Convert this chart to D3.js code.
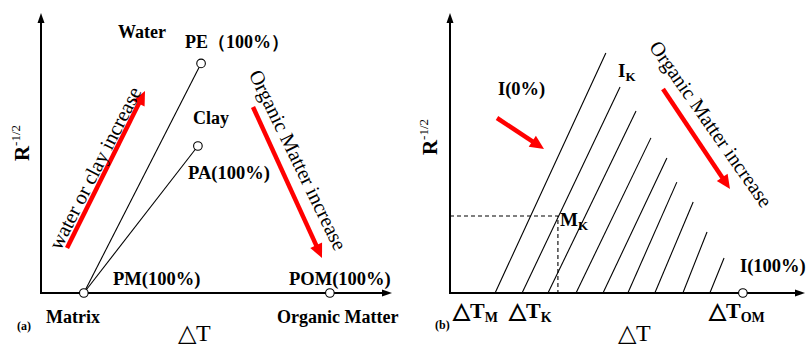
<!DOCTYPE html>
<html><head><meta charset="utf-8">
<script src="https://cdn.jsdelivr.net/npm/d3@7"></script>
<style>body{margin:0;background:#fff}svg{display:block}text{font-family:"Liberation Serif","Times New Roman",serif}</style>
</head><body><svg id="c" width="807" height="345"></svg>
<script>
// ---- Panel (a) data (arbitrary units: ΔT 0-100, R^-1/2 0-100)
const endMembersA = ["Matrix", "PE", "PA", "POM"];
const endMembersA_dT = [12.2, 45.6, 44.7, 82.3];
const endMembersA_R = [0, 82, 52.5, 0];
const mixingLinesA = [["Matrix", "PE"], ["Matrix", "PA"]];

// ---- Panel (b) data
const isoLineBottomDT = [12.7, 20.3, 27.6, 35.5, 43.1, 50.1, 57.7, 65.6, 73.2];
const isoLineTopDT = [43.9, 47.9, 52.4, 56.6, 61.1, 63.9, 68.5, 72.4, 77.2];
const isoLineTopR = [85.7, 73.6, 65.0, 55.4, 48.2, 39.6, 32.5, 21.8, 12.5];
const pointMK = [30.4, 27.5];
const pointOM = [82.5, 0];

const svg = d3.select("#c");
svg.append("rect").attr("width", 807).attr("height", 345).attr("fill", "#fff");

const xA = d3.scaleLinear().domain([0, 100]).range([41, 392]);
const yA = d3.scaleLinear().domain([0, 100]).range([293, 13]);
const xB = d3.scaleLinear().domain([0, 100]).range([450, 805]);
const yB = d3.scaleLinear().domain([0, 100]).range([293, 13]);

function axes(g, x, y) {
  const x0 = x.range()[0], x1 = x.range()[1], y0 = y.range()[0], y1 = y.range()[1];
  g.append("line").attr("x1", x0).attr("y1", y0 + 1).attr("x2", x0).attr("y2", y1 + 6).attr("stroke", "#000").attr("stroke-width", 2);
  g.append("line").attr("x1", x0 - 1).attr("y1", y0).attr("x2", x1 - 6).attr("y2", y0).attr("stroke", "#000").attr("stroke-width", 2);
  g.append("path").attr("d", `M${x0},${y1} L${x0 - 3.5},${y1 + 10} L${x0 + 3.5},${y1 + 10} Z`).attr("fill", "#000");
  g.append("path").attr("d", `M${x1},${y0} L${x1 - 10},${y0 - 3.5} L${x1 - 10},${y0 + 3.5} Z`).attr("fill", "#000");
}

function redArrow(g, x1, y1, x2, y2) {
  const L = Math.hypot(x2 - x1, y2 - y1), ux = (x2 - x1) / L, uy = (y2 - y1) / L;
  const hl = 14, hw = 6.5;
  const bx = x2 - ux * hl, by = y2 - uy * hl;
  g.append("line").attr("x1", x1).attr("y1", y1).attr("x2", bx + ux).attr("y2", by + uy)
    .attr("stroke", "#ff0000").attr("stroke-width", 4.5);
  g.append("path").attr("d", `M${x2},${y2} L${bx - uy * hw},${by + ux * hw} L${bx + uy * hw},${by - ux * hw} Z`).attr("fill", "#ff0000");
}

function label(g, txt, x, y, size, bold, anchor) {
  return g.append("text").attr("x", x).attr("y", y).attr("font-size", size)
    .attr("font-weight", bold ? "bold" : "normal").attr("text-anchor", anchor || "start").text(txt);
}

function subLabel(g, main, sub, x, y, size, subSize, bold) {
  const t = g.append("text").attr("x", x).attr("y", y).attr("font-size", size).attr("font-weight", bold ? "bold" : "normal");
  t.append("tspan").text(main);
  t.append("tspan").attr("font-size", subSize).attr("dy", 4).text(sub);
  return t;
}

function rLabel(g, cx, cy) {
  const t = g.append("text").attr("transform", `translate(${cx},${cy}) rotate(-90)`).attr("text-anchor", "middle")
    .attr("font-size", 21).attr("font-weight", "bold");
  t.append("tspan").text("R");
  t.append("tspan").attr("font-size", 13).attr("font-weight", "normal").attr("dy", -9).text("-1/2");
}

// ================= Panel (a)
const gA = svg.append("g");
axes(gA, xA, yA);
const idx = n => endMembersA.indexOf(n);
gA.selectAll("line.mix").data(mixingLinesA).enter().append("line").attr("class", "mix")
  .attr("x1", d => xA(endMembersA_dT[idx(d[0])])).attr("y1", d => yA(endMembersA_R[idx(d[0])]))
  .attr("x2", d => xA(endMembersA_dT[idx(d[1])])).attr("y2", d => yA(endMembersA_R[idx(d[1])]))
  .attr("stroke", "#000").attr("stroke-width", 1.1);
gA.selectAll("circle").data(endMembersA).enter().append("circle")
  .attr("cx", (d, i) => xA(endMembersA_dT[i])).attr("cy", (d, i) => yA(endMembersA_R[i])).attr("r", 4.3)
  .attr("fill", "#fff").attr("stroke", "#000").attr("stroke-width", 1.1);

label(gA, "Water", 118, 38, 18, true);
label(gA, "PE\uFF08100%\uFF09", 185, 48, 18, true);
label(gA, "Clay", 193, 124, 18, true);
label(gA, "PA(100%)", 188, 179, 18.5, true);
label(gA, "PM(100%)", 113, 285, 18.5, true);
label(gA, "POM(100%)", 289, 285, 18.5, true);
label(gA, "Matrix", 46, 323, 18, true);
label(gA, "Organic Matter", 277, 323, 18, true);
label(gA, "(a)", 17, 330, 12, true);
label(gA, "\u25B3T", 178, 341, 24, false);
rLabel(gA, 29, 143);

redArrow(gA, 67, 248, 145, 91);
redArrow(gA, 253, 107, 322, 258);
gA.append("text").attr("transform", "translate(95,168) rotate(-63)").attr("text-anchor", "middle")
  .attr("dominant-baseline", "central").attr("font-size", 20.5).text("water or clay increase");
gA.append("text").attr("transform", "translate(298,160) rotate(64)").attr("text-anchor", "middle")
  .attr("dominant-baseline", "central").attr("font-size", 20.5).text("Organic Matter increase");

// ================= Panel (b)
const gB = svg.append("g");
axes(gB, xB, yB);
gB.selectAll("line.iso").data(isoLineBottomDT).enter().append("line").attr("class", "iso")
  .attr("x1", d => xB(d)).attr("y1", yB(0))
  .attr("x2", (d, i) => xB(isoLineTopDT[i])).attr("y2", (d, i) => yB(isoLineTopR[i]))
  .attr("stroke", "#000").attr("stroke-width", 1.1);
gB.append("path").attr("d", `M${xB(0)},${yB(pointMK[1])} H${xB(pointMK[0])} V${yB(0)}`)
  .attr("fill", "none").attr("stroke", "#000").attr("stroke-width", 1.1).attr("stroke-dasharray", "4,3");
gB.append("circle").attr("cx", xB(pointOM[0])).attr("cy", yB(pointOM[1])).attr("r", 4.3)
  .attr("fill", "#fff").attr("stroke", "#000").attr("stroke-width", 1.1);

label(gB, "I(0%)", 498, 95, 18.5, true);
subLabel(gB, "I", "K", 618, 77, 19, 13, true);
subLabel(gB, "M", "K", 560, 226, 19, 13, true);
label(gB, "I(100%)", 740, 272, 18.5, true);
subLabel(gB, "\u25B3T", "M", 453, 318, 22, 14, true);
subLabel(gB, "\u25B3T", "K", 509, 318, 22, 14, true);
subLabel(gB, "\u25B3T", "OM", 709, 318, 22, 14, true);
label(gB, "(b)", 435, 329, 12, true);
label(gB, "\u25B3T", 618, 341, 24, false);
rLabel(gB, 437, 137);

redArrow(gB, 497, 118, 544, 149);
redArrow(gB, 663, 89, 730, 189);
gB.append("text").attr("transform", "translate(711,124) rotate(55)").attr("text-anchor", "middle")
  .attr("dominant-baseline", "central").attr("font-size", 20.5).text("Organic Matter increase");
</script></body></html>
